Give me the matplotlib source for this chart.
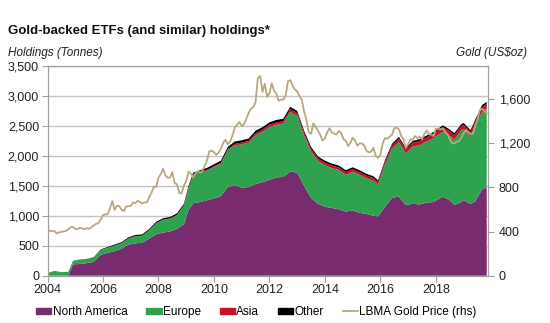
import matplotlib
matplotlib.use("Agg")
import matplotlib.pyplot as plt
import matplotlib.ticker as mticker
import matplotlib.patches as mpatches
import matplotlib.lines as mlines
import numpy as np
import pandas as pd

plt.rcParams['font.family'] = ['Liberation Sans', 'DejaVu Sans']

# ---------------- data (tonnes) ----------------
dates = ['2004-01', '2004-04', '2004-07', '2004-10', '2004-12',
         '2005-03', '2005-06', '2005-09', '2005-12',
         '2006-03', '2006-06', '2006-09', '2006-12',
         '2007-03', '2007-06', '2007-09', '2007-12',
         '2008-03', '2008-06', '2008-09', '2008-12',
         '2009-02', '2009-04', '2009-07', '2009-10',
         '2010-01', '2010-04', '2010-07', '2010-10',
         '2011-01', '2011-04', '2011-07', '2011-10',
         '2012-01', '2012-04', '2012-07', '2012-10',
         '2013-01', '2013-04', '2013-07', '2013-10',
         '2014-01', '2014-04', '2014-07', '2014-10',
         '2015-01', '2015-04', '2015-07', '2015-10', '2015-12',
         '2016-03', '2016-06', '2016-09', '2016-12',
         '2017-03', '2017-06', '2017-09', '2017-12',
         '2018-04', '2018-07', '2018-09', '2018-12',
         '2019-01', '2019-04', '2019-06', '2019-09', '2019-11']

north_america = [0, 0, 0, 0, 190,
                 195, 210, 230, 350,
                 380, 410, 450, 520,
                 540, 550, 620, 690,
                 720, 740, 780, 860,
                 1100, 1210, 1230, 1260,
                 1290, 1330, 1480, 1510,
                 1470, 1480, 1530, 1560,
                 1600, 1640, 1650, 1740,
                 1720, 1500, 1300, 1200,
                 1150, 1130, 1110, 1070,
                 1090, 1050, 1030, 1000, 990,
                 1150, 1300, 1320, 1180,
                 1200, 1190, 1220, 1230,
                 1320, 1260, 1180, 1230,
                 1260, 1200, 1240, 1440, 1470]

europe = [45, 80, 60, 65, 58,
          72, 65, 75, 82,
          86, 93, 92, 99,
          119, 117, 136, 184,
          213, 213, 229, 307,
          360, 470, 488, 494,
          523, 537, 615, 667,
          722, 740, 815, 842,
          880, 880, 888, 995,
          947, 840, 773, 715,
          695, 665, 655, 615,
          645, 635, 595, 585, 527,
          702, 815, 910, 860,
          955, 990, 1020, 1065,
          1085, 1075, 1095, 1195,
          1185, 1125, 1255, 1295, 1315]

asia = [0, 0, 0, 0, 0,
        0, 0, 0, 0,
        2, 2, 3, 3,
        3, 3, 4, 4,
        5, 5, 6, 8,
        10, 10, 12, 14,
        15, 18, 20, 25,
        30, 32, 35, 38,
        40, 40, 42, 45,
        45, 45, 45, 45,
        45, 45, 45, 45,
        45, 45, 45, 45, 45,
        50, 55, 60, 60,
        65, 70, 70, 75,
        75, 75, 75, 75,
        75, 75, 75, 80, 80]

other = [0, 0, 0, 0, 2,
         3, 5, 5, 8,
         12, 15, 15, 18,
         18, 20, 20, 22,
         22, 22, 25, 25,
         30, 30, 30, 32,
         32, 35, 35, 38,
         38, 38, 40, 40,
         40, 40, 40, 40,
         38, 35, 32, 30,
         30, 30, 30, 30,
         30, 30, 30, 30, 28,
         28, 30, 30, 30,
         30, 30, 30, 30,
         30, 30, 30, 30,
         30, 30, 30, 35, 35]

# LBMA gold price, monthly (US$/oz), Jan 2004 - Nov 2019
gold_start = '2004-01'
gold_price = [414, 405, 406, 404, 384, 392, 398, 400, 406, 420, 439, 442,
              424, 423, 434, 429, 422, 431, 424, 438, 456, 470, 476, 510,
              549, 555, 557, 610, 676, 596, 633, 632, 598, 586, 627, 629,
              631, 665, 655, 679, 667, 655, 665, 665, 712, 754, 806, 803,
              889, 922, 968, 909, 888, 889, 939, 839, 829, 750, 745, 816,
              858, 943, 924, 890, 928, 946, 934, 949, 996, 1043, 1127, 1134,
              1118, 1095, 1113, 1149, 1205, 1233, 1193, 1215, 1271, 1343, 1370, 1391,
              1356, 1372, 1424, 1474, 1512, 1529, 1573, 1790, 1810, 1666, 1739, 1620,
              1656, 1743, 1675, 1650, 1585, 1596, 1594, 1630, 1760, 1772, 1722, 1688,
              1671, 1627, 1593, 1487, 1414, 1300, 1286, 1380, 1349, 1316, 1275, 1225,
              1244, 1300, 1336, 1299, 1287, 1279, 1311, 1296, 1239, 1223, 1176, 1202,
              1251, 1227, 1179, 1198, 1199, 1181, 1131, 1117, 1125, 1159, 1086, 1068,
              1097, 1200, 1246, 1242, 1260, 1276, 1337, 1341, 1326, 1267, 1238, 1157,
              1192, 1234, 1231, 1266, 1246, 1260, 1236, 1283, 1315, 1280, 1283, 1265,
              1331, 1331, 1325, 1335, 1304, 1282, 1238, 1202, 1198, 1215, 1221, 1250,
              1291, 1320, 1300, 1285, 1284, 1359, 1413, 1500, 1511, 1495, 1471]

series_names = ['North America', 'Europe', 'Asia', 'Other']
colors = ['#782b6f', '#2ea24f', '#c8102e', '#000000']
gold_color = '#b9a87f'

# ---------------- plotting ----------------
def to_year(s):
    d = pd.to_datetime(pd.Series(s))
    return (d.dt.year + (d.dt.month - 1) / 12.0).to_numpy()

x = to_year(dates)
gx = to_year(pd.date_range(gold_start, periods=len(gold_price), freq='MS').strftime('%Y-%m'))

fig = plt.figure(figsize=(5.5, 3.23), dpi=100)
ax = fig.add_axes([0.0864, 0.1464, 0.8004, 0.6492])
ax.set_axisbelow(True)

ax.stackplot(x, north_america, europe, asia, other, colors=colors, linewidth=0)

ax.set_xlim(2004.0, 2019.87)
ax.set_ylim(0, 3500)
ax.set_yticks(np.arange(0, 3501, 500))
ax.yaxis.set_major_formatter(mticker.FuncFormatter(lambda v, p: f'{int(v):,}'))
ax.set_xticks(np.arange(2004, 2019, 2))
ax.xaxis.set_major_formatter(mticker.FuncFormatter(lambda v, p: f'{int(v)}'))
ax.grid(axis='y', color='#c4c4c4', linewidth=1.0)
for s in ['left', 'bottom', 'right', 'top']:
    ax.spines[s].set_color('#a0a0a0')
    ax.spines[s].set_linewidth(0.8)
ax.tick_params(axis='both', direction='out', length=4, width=0.8, color='#a0a0a0',
               labelsize=9, labelcolor='#222222', pad=2)

ax2 = ax.twinx()
ax2.plot(gx, gold_price, color=gold_color, linewidth=1.3)
ax2.set_ylim(0, 1900)
ax2.set_yticks(np.arange(0, 1601, 400))
ax2.yaxis.set_major_formatter(mticker.FuncFormatter(lambda v, p: f'{int(v):,}'))
for s in ['left', 'bottom', 'right', 'top']:
    ax2.spines[s].set_color('#a0a0a0')
    ax2.spines[s].set_linewidth(0.8)
ax2.tick_params(axis='y', direction='out', length=4, width=0.8, color='#a0a0a0',
                labelsize=9, labelcolor='#222222', pad=4)
ax2.set_xlim(2004.0, 2019.87)

fig.text(8 / 550, 1 - 34 / 323, 'Gold-backed ETFs (and similar) holdings*',
         fontsize=9.5, fontweight='bold', color='#111111', ha='left', va='baseline')
fig.text(8 / 550, 1 - 53 / 323, 'Holdings (Tonnes)', fontsize=8.5, style='italic',
         color='#222222', ha='left', va='center')
fig.text(527 / 550, 1 - 53 / 323, 'Gold (US$oz)', fontsize=8.5, style='italic',
         color='#222222', ha='right', va='center')

handles = [mpatches.Patch(color=c, label=n) for c, n in zip(colors, series_names)]
handles.append(mlines.Line2D([], [], color=gold_color, linewidth=1.3,
                             label='LBMA Gold Price (rhs)'))
fig.legend(handles=handles, loc='center', bbox_to_anchor=(0.466, 0.034), ncol=5,
           frameon=False, fontsize=8.5, handlelength=1.3, handleheight=0.45,
           handletextpad=0.1, columnspacing=1.6, borderaxespad=0)

fig.savefig('out.png', dpi=100)
